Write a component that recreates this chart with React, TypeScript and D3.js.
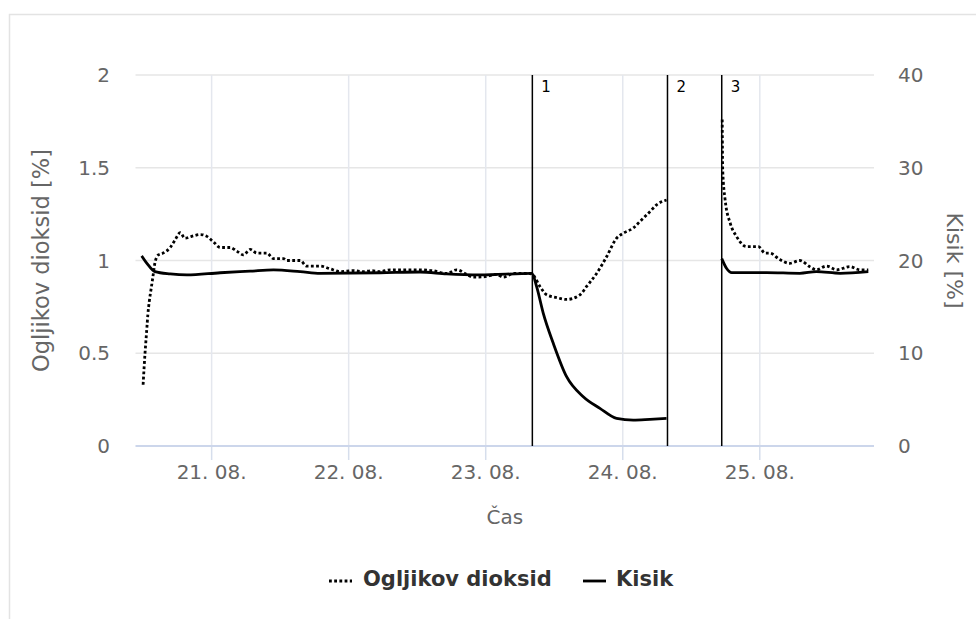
import React from "react";
import * as d3 from "d3";

// Time stamps use "dd.mm. HH:MM"; null values break the line (no measurement).
const co2Time = [
  "20.08. 12:00", "20.08. 12:10", "20.08. 12:20", "20.08. 12:30", "20.08. 12:40",
  "20.08. 12:50", "20.08. 13:05", "20.08. 13:25", "20.08. 13:45", "20.08. 14:05",
  "20.08. 14:40", "20.08. 15:30", "20.08. 16:45", "20.08. 17:35", "20.08. 18:30",
  "20.08. 19:20", "20.08. 20:30", "20.08. 22:00", "20.08. 23:10", "21.08. 00:20",
  "21.08. 01:30", "21.08. 03:15", "21.08. 04:25", "21.08. 05:35", "21.08. 06:45",
  "21.08. 07:55", "21.08. 09:40", "21.08. 10:50", "21.08. 12:35", "21.08. 13:10",
  "21.08. 15:30", "21.08. 16:40", "21.08. 19:00", "21.08. 20:45", "21.08. 22:30",
  "22.08. 00:50", "22.08. 02:30", "22.08. 04:00", "22.08. 05:30", "22.08. 07:15",
  "22.08. 09:00", "22.08. 10:45", "22.08. 12:30", "22.08. 14:45", "22.08. 17:10",
  "22.08. 18:55", "22.08. 20:40", "22.08. 21:50", "22.08. 23:35", "23.08. 01:55",
  "23.08. 03:05", "23.08. 04:50", "23.08. 07:45", "23.08. 08:20", "23.08. 09:30",
  "23.08. 10:40", "23.08. 12:25", "23.08. 14:10", "23.08. 16:30", "23.08. 17:40",
  "23.08. 19:25", "23.08. 21:10", "23.08. 22:55", "24.08. 00:05", "24.08. 01:50",
  "24.08. 03:00", "24.08. 04:45", "24.08. 05:55", "24.08. 07:40", "24.08. 12:00",
  "24.08. 17:25", "24.08. 17:30", "24.08. 17:55", "24.08. 18:50", "24.08. 19:55",
  "24.08. 21:40", "24.08. 23:45", "25.08. 00:55", "25.08. 01:45", "25.08. 03:30",
  "25.08. 05:15", "25.08. 07:00", "25.08. 08:45", "25.08. 09:55", "25.08. 11:40",
  "25.08. 13:30", "25.08. 15:45", "25.08. 17:30", "25.08. 19:00",
];
const co2Value: (number | null)[] = [
  0.33, 0.42, 0.5, 0.57, 0.64,
  0.71, 0.78, 0.85, 0.92, 0.99,
  1.03, 1.04, 1.07, 1.11, 1.15,
  1.12, 1.13, 1.14, 1.13, 1.1,
  1.07, 1.07, 1.05, 1.03, 1.06,
  1.04, 1.04, 1.01, 1.01, 1.0,
  1.0, 0.97, 0.97, 0.955, 0.94,
  0.945, 0.94, 0.945, 0.94, 0.95,
  0.95, 0.95, 0.95, 0.945, 0.93,
  0.95, 0.925, 0.91, 0.912, 0.925,
  0.91, 0.93, 0.93, 0.92, 0.86,
  0.815, 0.8, 0.79, 0.815, 0.86,
  0.93, 1.02, 1.12, 1.147, 1.175,
  1.21, 1.263, 1.3, 1.326, null,
  1.76, 1.49, 1.33, 1.2, 1.13,
  1.075, 1.075, 1.04, 1.04, 1.005,
  0.985, 1.0, 0.967, 0.95, 0.97,
  0.95, 0.967, 0.95, 0.95,
];

const o2Time = [
  "20.08. 11:45", "20.08. 12:40", "20.08. 14:05", "20.08. 16:45", "20.08. 19:40",
  "21.08. 01:30", "21.08. 06:45", "21.08. 10:50", "21.08. 15:30", "21.08. 19:00",
  "22.08. 05:30", "22.08. 12:30", "22.08. 17:10", "22.08. 23:00", "23.08. 08:05",
  "23.08. 08:55", "23.08. 10:05", "23.08. 11:50", "23.08. 14:10", "23.08. 17:05",
  "23.08. 20:00", "23.08. 22:55", "24.08. 01:50", "24.08. 04:45", "24.08. 07:40",
  "24.08. 12:00",
  "24.08. 17:20", "24.08. 18:10", "24.08. 19:05", "25.08. 01:10", "25.08. 07:00",
  "25.08. 09:55", "25.08. 14:05", "25.08. 19:00",
];
const o2Value: (number | null)[] = [
  20.5, 19.7, 18.8, 18.55, 18.44,
  18.68, 18.85, 18.98, 18.8, 18.62,
  18.68, 18.76, 18.55, 18.44, 18.62,
  17.18, 14.3, 11.07, 7.47, 5.32,
  4.06, 2.98, 2.8, 2.88, 2.98,
  null,
  20.2, 19.16, 18.69, 18.69, 18.62,
  18.8, 18.62, 18.8,
];

const eventTime = ["23.08. 08:10", "24.08. 07:50", "24.08. 17:20"];
const eventLabel = ["1", "2", "3"];

const xTickTime = ["21.08. 00:00", "22.08. 00:00", "23.08. 00:00", "24.08. 00:00", "25.08. 00:00"];
const xDomain = ["20.08. 10:40", "25.08. 20:00"];
const leftTicks = [0, 0.5, 1, 1.5, 2];
const rightTicks = [0, 10, 20, 30, 40];

const seriesNames = ["Ogljikov dioksid", "Kisik"];
const xTitle = "Čas";
const leftTitle = "Ogljikov dioksid [%]";
const rightTitle = "Kisik [%]";

const parse = d3.timeParse("%d.%m. %H:%M");
const fmt = d3.timeFormat("%d. %m.");

const W = 976;
const H = 619;
const plot = { left: 135.5, right: 874, top: 75, bottom: 446 };
const FONT = "DejaVu Sans";

export default function App() {
  const x = d3
    .scaleTime()
    .domain(xDomain.map((s) => parse(s) as Date))
    .range([plot.left, plot.right]);
  const yL = d3.scaleLinear().domain([0, 2]).range([plot.bottom, plot.top]);
  const yR = d3.scaleLinear().domain([0, 40]).range([plot.bottom, plot.top]);

  const co2 = co2Time.map((t, i) => ({ t: parse(t) as Date, v: co2Value[i] }));
  const o2 = o2Time.map((t, i) => ({ t: parse(t) as Date, v: o2Value[i] }));

  const co2Line = d3
    .line<{ t: Date; v: number | null }>()
    .defined((d) => d.v != null)
    .x((d) => x(d.t))
    .y((d) => yL(d.v as number))
    .curve(d3.curveMonotoneX);
  const o2Line = d3
    .line<{ t: Date; v: number | null }>()
    .defined((d) => d.v != null)
    .x((d) => x(d.t))
    .y((d) => yR(d.v as number))
    .curve(d3.curveMonotoneX);

  const midY = (plot.top + plot.bottom) / 2;
  const midX = (plot.left + plot.right) / 2;

  return (
    <svg
      width={W}
      height={H}
      style={{ position: "absolute", left: 0, top: 0, background: "#fff" }}
      fontFamily={FONT}
    >
      <rect x={9.5} y={14.5} width={W + 20} height={H + 20} fill="#fff" stroke="#e3e3e3" strokeWidth={1.5} />

      {/* horizontal grid */}
      {leftTicks.slice(1).map((t) => (
        <line key={t} x1={plot.left} x2={plot.right} y1={yL(t)} y2={yL(t)} stroke="#e6e6e6" strokeWidth={1.5} />
      ))}

      {/* vertical grid + ticks */}
      {xTickTime.map((s) => {
        const px = x(parse(s) as Date);
        return (
          <g key={s}>
            <line x1={px} x2={px} y1={plot.top} y2={plot.bottom} stroke="#e4e7ee" strokeWidth={1.5} />
            <line x1={px} x2={px} y1={plot.bottom} y2={plot.bottom + 14} stroke="#d6deec" strokeWidth={1.5} />
            <text x={px} y={479} textAnchor="middle" fontSize={20} fill="#666">
              {fmt(parse(s) as Date)}
            </text>
          </g>
        );
      })}

      {/* x axis line */}
      <line x1={plot.left} x2={plot.right} y1={plot.bottom} y2={plot.bottom} stroke="#ccd6eb" strokeWidth={2} />

      {/* left axis labels */}
      {leftTicks.map((t) => (
        <text key={t} x={110} y={yL(t)} dy="0.36em" textAnchor="end" fontSize={20} fill="#666">
          {t}
        </text>
      ))}
      {/* right axis labels */}
      {rightTicks.map((t) => (
        <text key={t} x={898} y={yR(t)} dy="0.36em" textAnchor="start" fontSize={20} fill="#666">
          {t}
        </text>
      ))}

      {/* axis titles */}
      <text x={midX} y={524} textAnchor="middle" fontSize={20} fill="#666">
        {xTitle}
      </text>
      <text
        transform={`translate(41,${midY}) rotate(-90)`}
        textAnchor="middle"
        dy="0.36em"
        fontSize={22.5}
        fill="#666"
      >
        {leftTitle}
      </text>
      <text
        transform={`translate(955,${midY}) rotate(90)`}
        textAnchor="middle"
        dy="0.36em"
        fontSize={22}
        fill="#666"
      >
        {rightTitle}
      </text>

      {/* event markers */}
      {eventTime.map((s, i) => {
        const px = x(parse(s) as Date);
        return (
          <g key={s}>
            <line x1={px} x2={px} y1={plot.top} y2={plot.bottom} stroke="#000" strokeWidth={1.5} />
            <text x={px + 9} y={92} fontSize={15} fill="#000">
              {eventLabel[i]}
            </text>
          </g>
        );
      })}

      {/* series */}
      <path d={o2Line(o2) || ""} fill="none" stroke="#000" strokeWidth={2.8} strokeLinejoin="round" />
      <path d={co2Line(co2) || ""} fill="none" stroke="#000" strokeWidth={2.8} strokeDasharray="2.8,2.4" />

      {/* legend */}
      <g>
        <line x1={329} x2={352} y1={581} y2={581} stroke="#000" strokeWidth={2.8} strokeDasharray="2.8,2.4" />
        <text x={363} y={586} fontSize={21} fontWeight="bold" fill="#333">
          {seriesNames[0]}
        </text>
        <line x1={583} x2={606} y1={581} y2={581} stroke="#000" strokeWidth={2.8} />
        <text x={616} y={586} fontSize={21} fontWeight="bold" fill="#333">
          {seriesNames[1]}
        </text>
      </g>
    </svg>
  );
}
